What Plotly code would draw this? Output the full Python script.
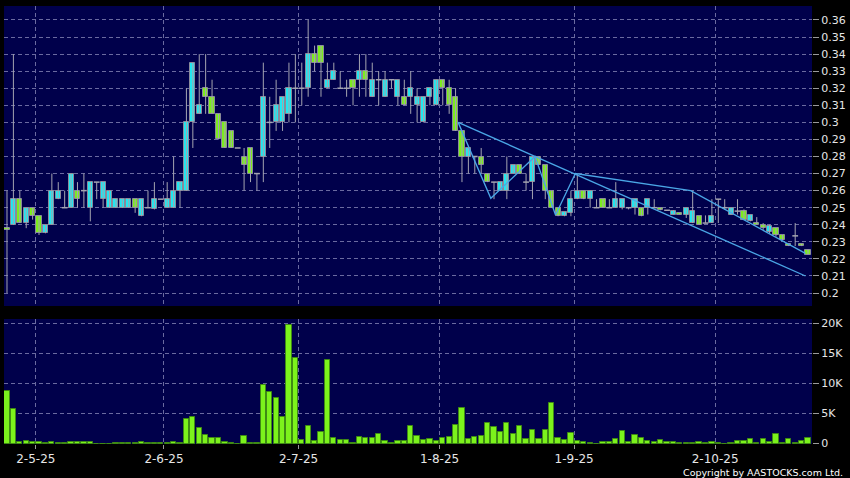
import plotly.graph_objects as go

# ---------------- data ----------------
opens = [0.238, 0.24, 0.255, 0.241, 0.25, 0.245, 0.235, 0.24, 0.255, 0.25,
         0.25, 0.26, 0.26, 0.25, 0.265, 0.255, 0.25, 0.25, 0.25, 0.25,
         0.255, 0.245, 0.25, 0.249, 0.255, 0.25, 0.25, 0.26, 0.26, 0.30,
         0.305, 0.32, 0.315, 0.305, 0.30, 0.295, 0.285, 0.28, 0.285, 0.27,
         0.28, 0.30, 0.30, 0.30, 0.305, 0.32, 0.32, 0.32, 0.34, 0.345,
         0.32, 0.325, 0.32, 0.32, 0.325, 0.325, 0.33, 0.315, 0.325, 0.315,
         0.325, 0.315, 0.315, 0.315, 0.31, 0.30, 0.315, 0.31, 0.325, 0.32,
         0.315, 0.295, 0.28, 0.28, 0.28, 0.27, 0.265, 0.26, 0.26, 0.27,
         0.275, 0.265, 0.265, 0.28, 0.275, 0.26, 0.25, 0.245, 0.247, 0.255,
         0.26, 0.255, 0.25, 0.255, 0.25, 0.25, 0.25, 0.25, 0.25, 0.25,
         0.25, 0.25, 0.25, 0.2485, 0.246, 0.247, 0.246, 0.241, 0.245, 0.241,
         0.241, 0.255, 0.25, 0.246, 0.248, 0.248, 0.242, 0.241, 0.24, 0.236,
         0.238, 0.234, 0.229, 0.2335, 0.229, 0.2255]
highs = [0.26, 0.34, 0.26, 0.25, 0.25, 0.245, 0.24, 0.27, 0.265, 0.26,
         0.27, 0.265, 0.27, 0.265, 0.265, 0.265, 0.26, 0.255, 0.255, 0.255,
         0.255, 0.255, 0.26, 0.265, 0.255, 0.265, 0.28, 0.265, 0.32, 0.335,
         0.34, 0.34, 0.325, 0.305, 0.30, 0.295, 0.285, 0.285, 0.285, 0.27,
         0.335, 0.315, 0.325, 0.315, 0.335, 0.34, 0.335, 0.36, 0.345, 0.345,
         0.335, 0.335, 0.33, 0.325, 0.325, 0.34, 0.34, 0.335, 0.33, 0.33,
         0.325, 0.325, 0.325, 0.33, 0.32, 0.315, 0.32, 0.325, 0.325, 0.325,
         0.32, 0.295, 0.285, 0.28, 0.285, 0.27, 0.265, 0.265, 0.28, 0.275,
         0.275, 0.27, 0.28, 0.28, 0.275, 0.26, 0.25, 0.2475, 0.26, 0.27,
         0.26, 0.26, 0.255, 0.255, 0.255, 0.265, 0.255, 0.25, 0.255, 0.25,
         0.255, 0.255, 0.25, 0.2485, 0.2485, 0.247, 0.25, 0.26, 0.245, 0.2455,
         0.255, 0.255, 0.255, 0.25, 0.255, 0.249, 0.2455, 0.2445, 0.241, 0.24,
         0.238, 0.234, 0.229, 0.241, 0.229, 0.2255]
lows = [0.20, 0.24, 0.241, 0.238, 0.243, 0.234, 0.235, 0.24, 0.255, 0.25,
        0.25, 0.25, 0.25, 0.242, 0.255, 0.25, 0.25, 0.25, 0.25, 0.25,
        0.247, 0.245, 0.25, 0.249, 0.255, 0.25, 0.25, 0.25, 0.26, 0.285,
        0.305, 0.305, 0.305, 0.29, 0.285, 0.285, 0.285, 0.26, 0.265, 0.26,
        0.265, 0.285, 0.295, 0.295, 0.30, 0.30, 0.31, 0.315, 0.33, 0.315,
        0.32, 0.325, 0.32, 0.315, 0.31, 0.315, 0.315, 0.315, 0.31, 0.315,
        0.32, 0.31, 0.31, 0.305, 0.30, 0.30, 0.31, 0.31, 0.31, 0.305,
        0.295, 0.265, 0.27, 0.27, 0.27, 0.265, 0.255, 0.26, 0.255, 0.27,
        0.27, 0.26, 0.255, 0.275, 0.255, 0.25, 0.245, 0.245, 0.245, 0.255,
        0.255, 0.25, 0.25, 0.25, 0.25, 0.25, 0.249, 0.249, 0.246, 0.245,
        0.246, 0.25, 0.2485, 0.2485, 0.246, 0.246, 0.244, 0.241, 0.24, 0.241,
        0.241, 0.241, 0.249, 0.246, 0.246, 0.243, 0.242, 0.24, 0.237, 0.235,
        0.233, 0.231, 0.2275, 0.2275, 0.2275, 0.2225]
closes = [0.237, 0.255, 0.241, 0.25, 0.245, 0.235, 0.24, 0.26, 0.26, 0.25,
          0.27, 0.255, 0.26, 0.265, 0.265, 0.265, 0.26, 0.255, 0.255, 0.255,
          0.25, 0.255, 0.25, 0.255, 0.255, 0.255, 0.26, 0.265, 0.30, 0.335,
          0.31, 0.315, 0.305, 0.29, 0.285, 0.285, 0.285, 0.275, 0.27, 0.27,
          0.315, 0.30, 0.31, 0.315, 0.32, 0.32, 0.32, 0.34, 0.335, 0.335,
          0.325, 0.33, 0.32, 0.32, 0.32, 0.33, 0.325, 0.325, 0.325, 0.325,
          0.325, 0.325, 0.31, 0.32, 0.315, 0.315, 0.32, 0.325, 0.32, 0.31,
          0.295, 0.28, 0.285, 0.28, 0.275, 0.265, 0.265, 0.265, 0.27, 0.275,
          0.27, 0.265, 0.28, 0.275, 0.26, 0.25, 0.245, 0.2475, 0.255, 0.26,
          0.255, 0.26, 0.25, 0.25, 0.25, 0.255, 0.255, 0.25, 0.255, 0.245,
          0.255, 0.25, 0.2485, 0.2485, 0.248, 0.246, 0.25, 0.248, 0.24, 0.241,
          0.245, 0.255, 0.25, 0.25, 0.248, 0.243, 0.2455, 0.24, 0.238, 0.2395,
          0.234, 0.231, 0.2275, 0.2335, 0.2275, 0.2225]
volumes = [8830, 5830, 280, 400, 200, 330, 50, 200, 150, 150,
           200, 200, 280, 200, 0, 0, 20, 150, 50, 150,
           150, 280, 150, 150, 50, 50, 330, 100, 4170, 4390,
           2560, 1500, 1000, 940, 330, 170, 0, 1280, 170, 170,
           9830, 8560, 7670, 4390, 19700, 14300, 670, 2900, 400, 1900,
           13900, 900, 560, 670, 170, 1060, 900, 900, 1670, 450,
           170, 400, 400, 2900, 1280, 560, 830, 450, 900, 1060,
           3060, 5940, 830, 1100, 1220, 3440, 2830, 1900, 3440, 1670,
           3000, 830, 2200, 720, 2280, 6830, 1000, 560, 1830, 500,
           330, 50, 0, 330, 220, 720, 2170, 330, 1500, 940,
           450, 220, 670, 220, 280, 50, 50, 100, 220, 170,
           330, 50, 0, 100, 500, 450, 830, 170, 830, 330,
           1670, 170, 830, 100, 500, 1000]

# month-start labels and the bar (trading-day) index where each month begins
month_labels = ["2-5-25", "2-6-25", "2-7-25", "1-8-25", "1-9-25", "2-10-25"]
month_bar_index = [4, 24, 45, 67, 88, 110]

# hand-drawn trend lines (bar index, price)
trend_a_x = [70.4, 124.6]
trend_a_y = [0.300, 0.210]
trend_b_x = [70.4, 75.5, 82.4, 85.6, 88.7, 106.7, 124.6]
trend_b_y = [0.300, 0.2555, 0.280, 0.2457, 0.270, 0.260, 0.2232]

price_ticks = [0.20, 0.21, 0.22, 0.23, 0.24, 0.25, 0.26, 0.27, 0.28,
               0.29, 0.30, 0.31, 0.32, 0.33, 0.34, 0.35, 0.36]
price_tick_text = ["0.2", "0.21", "0.22", "0.23", "0.24", "0.25", "0.26", "0.27", "0.28",
                   "0.29", "0.3", "0.31", "0.32", "0.33", "0.34", "0.35", "0.36"]
vol_ticks = [0, 5000, 10000, 15000, 20000]
vol_tick_text = ["0", "5K", "10K", "15K", "20K"]

# ---------------- styling ----------------
NAVY = "#00004b"
GRID = "#6a6aa0"
CYAN = "#22e6f0"
GREEN = "#7ced1e"
EDGE = "#8a8a9a"
WICK = "#a4a4b0"
FONT = "DejaVu Sans"
BODY_W = 0.8
DOJI_HALF = 0.45

n = len(opens)
x_idx = list(range(n))
tick_pos = [i + 0.5 for i in month_bar_index]

# wick segments
wx, wy = [], []
for i in x_idx:
    wx += [i, i, None]
    wy += [lows[i], highs[i], None]

up_x, up_base, up_h = [], [], []
dn_x, dn_base, dn_h = [], [], []
dj_x, dj_y = [], []
for i in x_idx:
    o, c = opens[i], closes[i]
    if c > o:
        up_x.append(i); up_base.append(o); up_h.append(c - o)
    elif c < o:
        dn_x.append(i); dn_base.append(c); dn_h.append(o - c)
    else:
        dj_x += [i - DOJI_HALF, i + DOJI_HALF, None]
        dj_y += [o, o, None]

fig = go.Figure()
fig.add_trace(go.Scatter(x=wx, y=wy, mode="lines", line=dict(color=WICK, width=1),
                         xaxis="x", yaxis="y", showlegend=False, hoverinfo="skip"))
fig.add_trace(go.Scatter(x=dj_x, y=dj_y, mode="lines", line=dict(color=WICK, width=1.5),
                         xaxis="x", yaxis="y", showlegend=False, hoverinfo="skip"))
fig.add_trace(go.Bar(x=up_x, y=up_h, base=up_base, width=BODY_W,
                     marker=dict(color=CYAN, line=dict(color=EDGE, width=1)),
                     xaxis="x", yaxis="y", showlegend=False, hoverinfo="skip"))
fig.add_trace(go.Bar(x=dn_x, y=dn_h, base=dn_base, width=BODY_W,
                     marker=dict(color=GREEN, line=dict(color=EDGE, width=1)),
                     xaxis="x", yaxis="y", showlegend=False, hoverinfo="skip"))

fig.add_trace(go.Scatter(x=trend_a_x, y=trend_a_y, mode="lines",
                         line=dict(color="#4aa6e6", width=1.3),
                         xaxis="x", yaxis="y", showlegend=False, hoverinfo="skip"))
fig.add_trace(go.Scatter(x=trend_b_x, y=trend_b_y, mode="lines",
                         line=dict(color="#4aa6e6", width=1.3),
                         xaxis="x", yaxis="y", showlegend=False, hoverinfo="skip"))

fig.add_trace(go.Bar(
    x=x_idx, y=volumes, width=0.82,
    marker=dict(color="#7cf21c", line=dict(color="#3f8a14", width=1)),
    xaxis="x2", yaxis="y2", showlegend=False, hoverinfo="skip",
))

W, H = 850, 478
ml, mr, mt, mb = 4, 35, 6, 34
plot_w = W - ml - mr
plot_h = H - mt - mb
spacing = 804 / 125.0
x0 = -3 / spacing
x1 = x0 + plot_w / spacing

price_bottom = (H - mb - 306) / plot_h
vol_top = (H - mb - 319) / plot_h

common_x = dict(range=[x0, x1], tickvals=tick_pos, showgrid=True, gridcolor=GRID,
                griddash="4px,3px", gridwidth=1, zeroline=False, showline=False)

fig.update_layout(
    width=W, height=H,
    margin=dict(l=ml, r=mr, t=mt, b=mb),
    paper_bgcolor="#000000", plot_bgcolor=NAVY,
    font=dict(family=FONT, color="#e6e6e6", size=11),
    barmode="overlay", bargap=0,
    xaxis=dict(**common_x, anchor="y", showticklabels=False, ticks=""),
    xaxis2=dict(**common_x, anchor="y2", ticktext=month_labels, ticks="outside",
                ticklen=4, tickcolor="#9a9a9a", tickfont=dict(size=12, color="#e6e6e6")),
    yaxis=dict(domain=[price_bottom, 1], range=[0.1924, 0.3682], side="right",
               tickvals=price_ticks, ticktext=price_tick_text, showgrid=True,
               gridcolor=GRID, griddash="4px,3px", zeroline=False, ticks="outside",
               ticklen=6, tickcolor="#9a9a9a", anchor="x"),
    yaxis2=dict(domain=[0, vol_top], range=[-60, 20720], side="right",
                tickvals=vol_ticks, ticktext=vol_tick_text, showgrid=True,
                gridcolor=GRID, griddash="4px,3px", zeroline=False, ticks="outside",
                ticklen=6, tickcolor="#9a9a9a", anchor="x2"),
    annotations=[dict(text="Copyright by AASTOCKS.com Ltd.", xref="paper", yref="paper",
                      x=(848 - ml) / plot_w, y=(H - mb - 472) / plot_h,
                      xanchor="right", yanchor="middle", showarrow=False,
                      font=dict(size=9.5, color="#ffffff", family=FONT))],
)

fig.write_html("out.html", config={"displayModeBar": False},
               post_script="document.body.style.margin='0';")
